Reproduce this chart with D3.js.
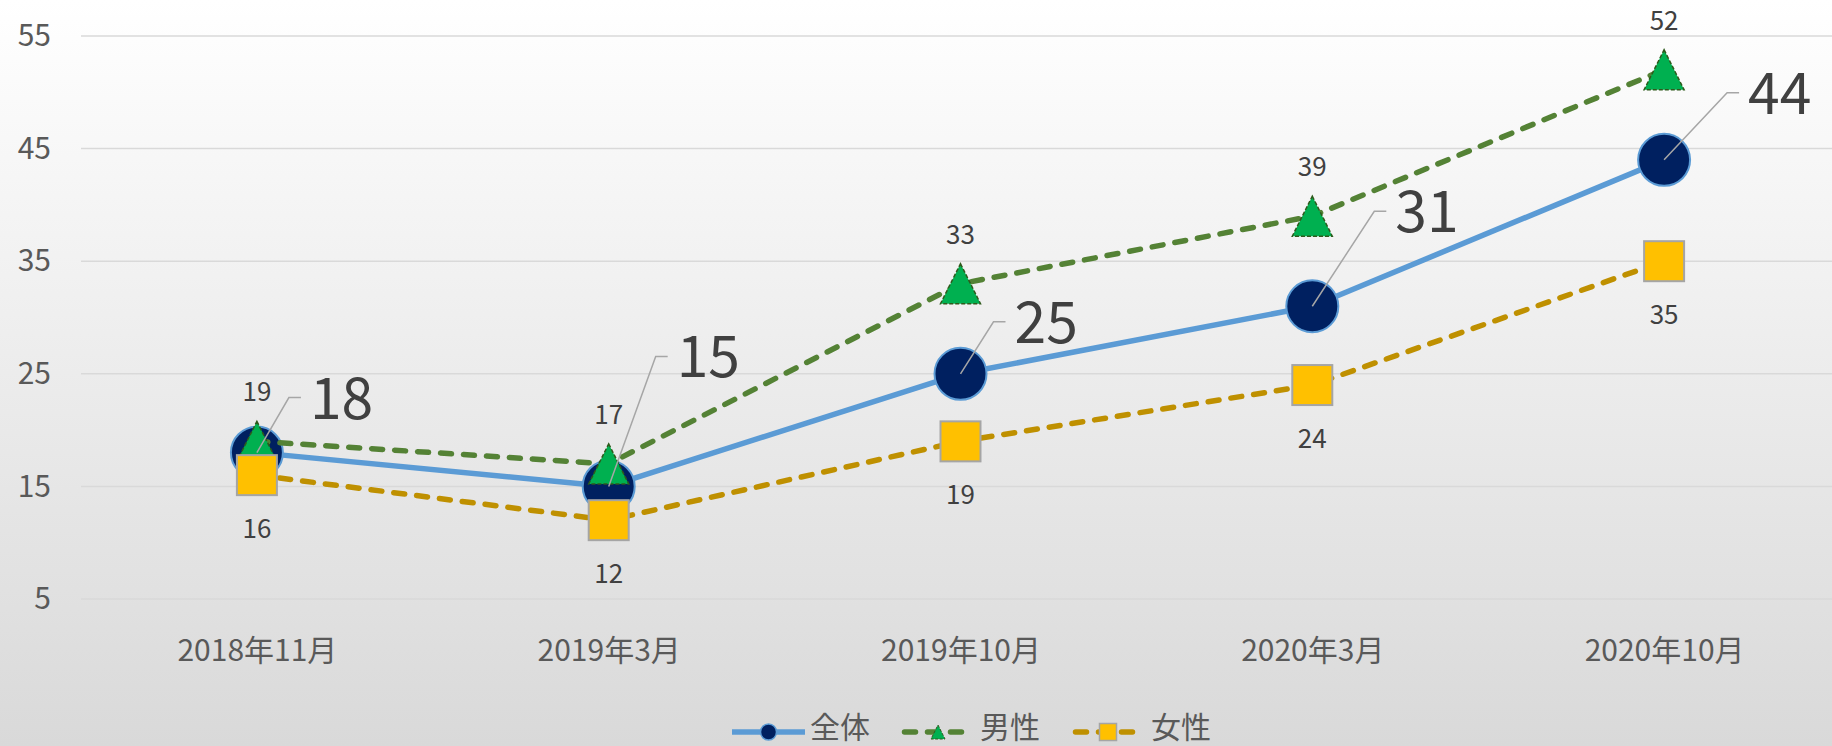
<!DOCTYPE html>
<html>
<head>
<meta charset="utf-8">
<script src="https://cdn.jsdelivr.net/npm/d3@7"></script>
<style>
  html, body { margin: 0; padding: 0; overflow: hidden; }
  svg { display: block; }
  text { font-family: "Noto Sans CJK JP", "Noto Sans", sans-serif; }
</style>
</head>
<body>
<div id="chart"></div>
<script>
// data
const categories = ["2018年11月", "2019年3月", "2019年10月", "2020年3月", "2020年10月"];
const seriesNames = ["全体", "男性", "女性"];
const totalValues = [18, 15, 25, 31, 44];
const maleValues = [19, 17, 33, 39, 52];
const femaleValues = [16, 12, 19, 24, 35];
const yTicks = [5, 15, 25, 35, 45, 55];
// hand placed elbows of the leader lines for the big labels (dx, dy from the point)
const totalLabelOffsets = [[32, -55], [47, -130], [33, -52], [62, -95], [63, -67]];

var w = 1832, h = 746;

var svg = d3.select("#chart").append("svg")
    .attr("width", w)
    .attr("height", h);

// background gradient
var defs = svg.append("defs");
var grad = defs.append("linearGradient")
    .attr("id", "bg").attr("x1", 0).attr("y1", 0).attr("x2", 0).attr("y2", 1);
grad.append("stop").attr("offset", "0%").attr("stop-color", "#ffffff");
grad.append("stop").attr("offset", "100%").attr("stop-color", "#d9d9d9");
svg.append("rect").attr("width", w).attr("height", h).attr("fill", "url(#bg)");

var x = d3.scalePoint().domain(categories).range([81, 1840]).padding(0.5);
var y = d3.scaleLinear().domain([5, 55]).range([599, 36]);

// gridlines
svg.append("g")
    .selectAll("line")
    .data(yTicks)
    .enter().append("line")
    .attr("x1", 81).attr("x2", w)
    .attr("y1", d => y(d)).attr("y2", d => y(d))
    .attr("stroke", "#d9d9d9")
    .attr("stroke-width", 1.5);

// y axis labels
var yAxis = svg.append("g")
    .attr("transform", "translate(51,0)")
    .call(d3.axisLeft(y).tickValues(yTicks).tickSize(0).tickPadding(0));
yAxis.select(".domain").remove();
yAxis.selectAll("text")
    .style("font-family", '"Noto Sans CJK JP", sans-serif')
    .style("font-size", "30px")
    .attr("fill", "#595959");

// x axis labels
var xAxis = svg.append("g")
    .attr("transform", "translate(0,599)")
    .call(d3.axisBottom(x).tickSize(0).tickPadding(0));
xAxis.select(".domain").remove();
xAxis.selectAll("text")
    .attr("y", 0)
    .attr("dy", "62px")
    .style("font-family", '"Noto Sans CJK JP", sans-serif')
    .style("font-size", "30px")
    .attr("fill", "#595959");

var line = d3.line()
    .x((d, i) => x(categories[i]))
    .y(d => y(d));

// 全体
svg.append("path")
    .datum(totalValues)
    .attr("d", line)
    .attr("fill", "none")
    .attr("stroke", "#5b9bd5")
    .attr("stroke-width", 5.5)
    .attr("stroke-linejoin", "round");
svg.append("g").selectAll("circle")
    .data(totalValues)
    .enter().append("circle")
    .attr("cx", (d, i) => x(categories[i]))
    .attr("cy", d => y(d))
    .attr("r", 26)
    .attr("fill", "#002060")
    .attr("stroke", "#5b9bd5")
    .attr("stroke-width", 2);

// 男性
function triPath(s) {
    // triangle with width s and height s, centred on 0,0
    return "M0," + (-s / 2) + "L" + (s / 2) + "," + (s / 2) + "L" + (-s / 2) + "," + (s / 2) + "Z";
}
svg.append("path")
    .datum(maleValues)
    .attr("d", line)
    .attr("fill", "none")
    .attr("stroke", "#548235")
    .attr("stroke-width", 5.5)
    .attr("stroke-dasharray", "11,12")
    .attr("stroke-linecap", "round");
svg.append("g").selectAll("path")
    .data(maleValues)
    .enter().append("path")
    .attr("transform", (d, i) => "translate(" + x(categories[i]) + "," + y(d) + ")")
    .attr("d", triPath(40))
    .attr("fill", "#00b050")
    .attr("stroke", "#2e5a1c")
    .attr("stroke-width", 1.5)
    .attr("stroke-dasharray", "4,2");

// 女性
svg.append("path")
    .datum(femaleValues)
    .attr("d", line)
    .attr("fill", "none")
    .attr("stroke", "#bf9000")
    .attr("stroke-width", 5.5)
    .attr("stroke-dasharray", "11,12")
    .attr("stroke-linecap", "round");
svg.append("g").selectAll("rect")
    .data(femaleValues)
    .enter().append("rect")
    .attr("x", (d, i) => x(categories[i]) - 20)
    .attr("y", d => y(d) - 20)
    .attr("width", 40)
    .attr("height", 40)
    .attr("fill", "#ffc000")
    .attr("stroke", "#a5a5a5")
    .attr("stroke-width", 2);

// labels 男性 (above) and 女性 (below)
svg.append("g").selectAll("text")
    .data(maleValues)
    .enter().append("text")
    .attr("x", (d, i) => x(categories[i]))
    .attr("y", d => y(d) - 40)
    .attr("text-anchor", "middle")
    .style("font-size", "26px")
    .attr("fill", "#404040")
    .text(d => d);
svg.append("g").selectAll("text")
    .data(femaleValues)
    .enter().append("text")
    .attr("x", (d, i) => x(categories[i]))
    .attr("y", d => y(d) + 63)
    .attr("text-anchor", "middle")
    .style("font-size", "26px")
    .attr("fill", "#404040")
    .text(d => d);

// big labels 全体 with leader lines
var big = svg.append("g").selectAll("g")
    .data(totalValues)
    .enter().append("g")
    .attr("transform", (d, i) => "translate(" + x(categories[i]) + "," + y(d) + ")");
big.append("path")
    .attr("d", (d, i) => {
        var o = totalLabelOffsets[i];
        return "M0,0L" + o[0] + "," + o[1] + "H" + (o[0] + 12);
    })
    .attr("fill", "none")
    .attr("stroke", "#a6a6a6")
    .attr("stroke-width", 1.5);
big.append("text")
    .attr("x", (d, i) => totalLabelOffsets[i][0] + 21)
    .attr("y", (d, i) => totalLabelOffsets[i][1] + 21)
    .style("font-size", "57px")
    .attr("fill", "#404040")
    .text(d => d);

// legend
var legendX = [732, 902, 1073];
var legend = svg.append("g").selectAll("g")
    .data(seriesNames)
    .enter().append("g")
    .attr("transform", (d, i) => "translate(" + legendX[i] + ",732)");
legend.append("line")
    .attr("x1", (d, i) => i == 0 ? 0 : 2.5).attr("x2", (d, i) => i == 0 ? 73 : 70.5)
    .attr("y1", 0).attr("y2", 0)
    .attr("stroke", (d, i) => ["#5b9bd5", "#548235", "#bf9000"][i])
    .attr("stroke-width", 5.5)
    .attr("stroke-dasharray", (d, i) => i == 0 ? null : "11,12")
    .attr("stroke-linecap", (d, i) => i == 0 ? "butt" : "round");
legend.filter((d, i) => i == 0).append("circle")
    .attr("cx", 36.5).attr("r", 8)
    .attr("fill", "#002060").attr("stroke", "#5b9bd5").attr("stroke-width", 1.5);
legend.filter((d, i) => i == 1).append("path")
    .attr("transform", "translate(36,0)")
    .attr("d", triPath(14))
    .attr("fill", "#00b050").attr("stroke", "#2e5a1c").attr("stroke-width", 1).attr("stroke-dasharray", "3,1.5");
legend.filter((d, i) => i == 2).append("rect")
    .attr("x", 26.5).attr("y", -8.5).attr("width", 17).attr("height", 17)
    .attr("fill", "#ffc000").attr("stroke", "#a5a5a5").attr("stroke-width", 1.5);
legend.append("text")
    .attr("x", 78)
    .attr("y", 6)
    .style("font-size", "30px")
    .attr("fill", "#595959")
    .text(d => d);
</script>
</body>
</html>
